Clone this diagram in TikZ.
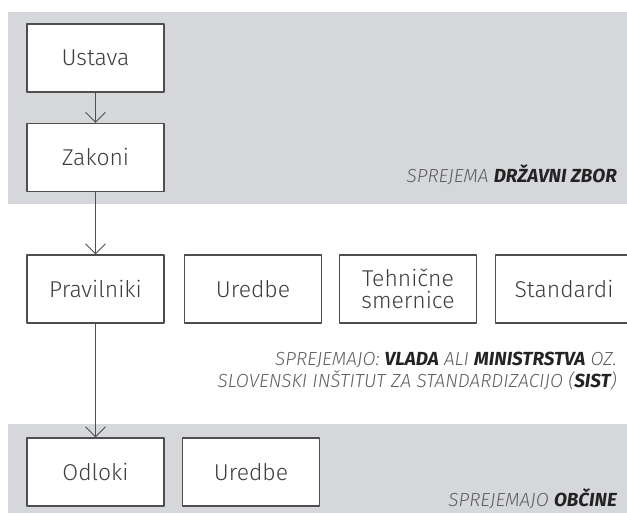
\documentclass[tikz,border=0pt]{standalone}
\usepackage{fontspec}
\setmainfont{Fira Sans Light}[ItalicFont={Fira Sans Light Italic},BoldFont={Fira Sans Bold},BoldItalicFont={Fira Sans Bold Italic}]
\usetikzlibrary{arrows.meta}
\definecolor{bandgray}{RGB}{213,215,218}
\definecolor{boxline}{RGB}{78,78,78}
\definecolor{boxtext}{RGB}{62,62,62}
\definecolor{labeltext}{RGB}{95,95,95}
\definecolor{labelbold}{RGB}{35,35,35}
\tikzset{
  actbox/.style={draw=boxline,fill=white,line width=1.2bp,minimum width=137bp,minimum height=68bp,inner sep=0pt,text=boxtext,font=\fontsize{23}{23}\selectfont,align=center},
  bodylabel/.style={anchor=base east,inner sep=0pt,text=labeltext,font=\fontsize{19}{20}\selectfont\itshape},
}
\newcommand{\whoby}[1]{\textbf{\color{labelbold}#1}}
\begin{document}
\begin{tikzpicture}[>={Straight Barb[length=10bp,width=20bp]},line join=bevel,]
\useasboundingbox (0bp,0bp) rectangle (627bp,513bp);
%% bands
\fill [bandgray] (8bp,309bp) rectangle (627bp,501bp);
\fill [bandgray] (8bp,0bp) rectangle (627bp,89bp);
%%
\node (node_ustava) at (95.5bp,455bp) [actbox] {Ustava};
\node (node_zakoni) at (95.5bp,355.5bp) [actbox] {Zakoni};
\node (node_pravilniki) at (95.5bp,224bp) [actbox] {Pravilniki};
\node (node_uredbe) at (253bp,224bp) [actbox] {Uredbe};
\node (node_smernice) at (408bp,224bp) [actbox] {Tehnične\\[-1bp]smernice};
\node (node_standardi) at (564bp,224bp) [actbox] {Standardi};
\node (node_odloki) at (95.5bp,41bp) [actbox] {Odloki};
\node (node_uredbe_obcine) at (251bp,41bp) [actbox] {Uredbe};
%%
\draw [boxline,line width=0.9bp,->] (node_ustava) -- (node_zakoni);
\draw [boxline,line width=0.9bp,->] (node_zakoni) -- (node_pravilniki);
\draw [boxline,line width=0.9bp,->] (node_pravilniki) -- (node_odloki);
%%
\node (label_zbor) at (617bp,330bp) [bodylabel] {SPREJEMA \whoby{DRŽAVNI ZBOR}};
\node (label_vlada) at (617bp,147bp) [bodylabel] {SPREJEMAJO: \whoby{VLADA} ALI \whoby{MINISTRSTVA} OZ.};
\node (label_sist) at (617bp,125bp) [bodylabel] {SLOVENSKI INŠTITUT ZA STANDARDIZACIJO (\whoby{SIST})};
\node (label_obcine) at (617bp,7bp) [bodylabel] {SPREJEMAJO \whoby{OBČINE}};
%
\end{tikzpicture}
\end{document}
